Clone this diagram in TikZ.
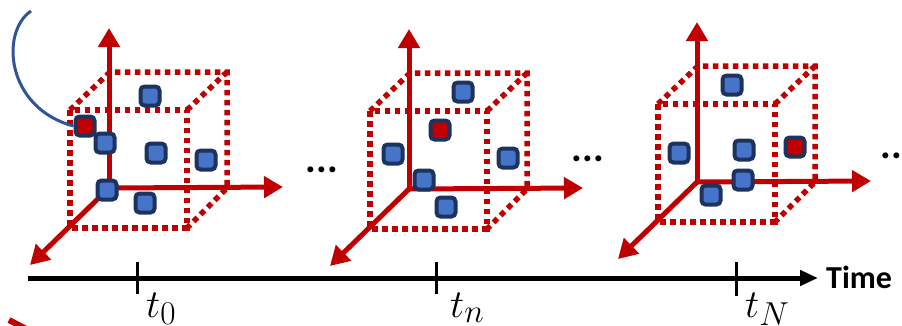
\documentclass[tikz,border=0pt]{standalone}
\usepackage{graphicx}
\usepackage{fontspec}
\newfontfamily\carlito{Carlito}
\usetikzlibrary{arrows.meta}

\definecolor{axisred}{RGB}{192,0,0}
\definecolor{ptblue}{RGB}{70,116,200}
\definecolor{ptnavy}{RGB}{28,50,95}
\definecolor{linkblue}{RGB}{47,85,151}

\newcommand{\tmark}[1]{\scalebox{1.6}{$t_{#1}$}}

\begin{document}
\begin{tikzpicture}[
  x=1pt, y=-1pt,
  axis/.style={axisred, line width=5pt, -{Triangle[length=19pt, width=21pt]}},
  cube/.style={axisred, line width=5.5pt, dash pattern=on 5.5pt off 4.5pt},
  pt/.style={draw=ptnavy, fill=ptblue, line width=4pt, rounded corners=4pt,
    minimum size=19pt, inner sep=0pt},
  redpt/.style={pt, fill=axisred},
  timeline/.style={line width=5pt, -{Triangle[length=18pt, width=15pt]}},
  tick/.style={line width=3pt},
  lbl/.style={anchor=base west, inner sep=0pt, font=\Huge},
  dots/.style={font=\carlito\bfseries\fontsize{40}{40}\selectfont, inner sep=0pt},
  link/.style={linkblue, line width=3pt}
]
  \useasboundingbox (0,0) rectangle (902,325);

  % first frame
  \begin{scope}
    \draw[cube] (70,110) rectangle (187,228);
    \draw[cube] (70,110) -- (110,72) -- (227,72) -- (227,188) -- (187,228);
    \draw[cube] (187,110) -- (227,72);
    \coordinate (o1) at (109,188);
    \coordinate (v1) at (109,28);
    \coordinate (h1) at (283,187);
    \coordinate (d1) at (30,265);
    \draw[axis] (o1) -- (v1);
    \draw[axis] (o1) -- (h1);
    \draw[axis] (o1) -- (d1);
    \node[pt] (s1a) at (150,96) {};
    \node[pt] (s1b) at (105,143) {};
    \node[pt] (s1c) at (156,153) {};
    \node[pt] (s1d) at (206,160) {};
    \node[pt] (s1e) at (107,190) {};
    \node[pt] (s1f) at (145,203) {};
    \node[redpt] (s1r) at (85,126) {};
  \end{scope}

  % second frame
  \begin{scope}[shift={(300,1)}]
    \draw[cube] (70,110) rectangle (187,228);
    \draw[cube] (70,110) -- (110,72) -- (227,72) -- (227,188) -- (187,228);
    \draw[cube] (187,110) -- (227,72);
    \coordinate (o2) at (109,188);
    \coordinate (v2) at (109,28);
    \coordinate (h2) at (283,187);
    \coordinate (d2) at (30,265);
    \draw[axis] (o2) -- (v2);
    \draw[axis] (o2) -- (h2);
    \draw[axis] (o2) -- (d2);
    \node[pt] (s2a) at (163,91) {};
    \node[pt] (s2b) at (93,153) {};
    \node[pt] (s2c) at (208,157) {};
    \node[pt] (s2d) at (124,179) {};
    \node[pt] (s2e) at (146,206) {};
    \node[redpt] (s2r) at (140,129) {};
  \end{scope}

  % last frame
  \begin{scope}[shift={(588,-6)}]
    \draw[cube] (70,110) rectangle (187,228);
    \draw[cube] (70,110) -- (110,72) -- (227,72) -- (227,188) -- (187,228);
    \draw[cube] (187,110) -- (227,72);
    \coordinate (o3) at (109,188);
    \coordinate (v3) at (109,28);
    \coordinate (h3) at (283,187);
    \coordinate (d3) at (30,265);
    \draw[axis] (o3) -- (v3);
    \draw[axis] (o3) -- (h3);
    \draw[axis] (o3) -- (d3);
    \node[pt] (s3a) at (144,91) {};
    \node[pt] (s3b) at (91,159) {};
    \node[pt] (s3c) at (156,156) {};
    \node[pt] (s3d) at (155,186) {};
    \node[pt] (s3e) at (123,201) {};
    \node[redpt] (s3r) at (207,153) {};
  \end{scope}

  % highlighted point link
  \coordinate (tail) at (31,11);
  \draw[link] (tail) .. controls (0,32) and (6,108) .. (s1r.west);
  \draw[axisred, line width=6pt] (9,320) -- (32,332);

  \node[dots] (gap1) at (322,170) {...};
  \node[dots] (gap2) at (588,159) {...};
  \node[dots] (gap3) at (897,156) {...};

  % time axis
  \coordinate (tstart) at (28,278);
  \coordinate (tend) at (818,278);
  \draw[timeline] (tstart) -- (tend);
  \node[anchor=base west, inner sep=0pt, font=\carlito\bfseries\fontsize{32}{32}\selectfont]
    (time) at (826,288) {Time};

  \coordinate (k0) at (137,278);
  \coordinate (kn) at (436,278);
  \coordinate (kN) at (736,278);
  \draw[tick] ([yshift=16pt]k0) -- ([yshift=-16pt]k0);
  \draw[tick] ([yshift=16pt]kn) -- ([yshift=-16pt]kn);
  \draw[tick] ([yshift=16pt]kN) -- ([yshift=-18pt]kN);
  \node[lbl] (l0) at (146,317) {\tmark{0}};
  \node[lbl] (ln) at (450,317) {\tmark{n}};
  \node[lbl] (lN) at (745,317) {\tmark{N}};
\end{tikzpicture}
\end{document}
